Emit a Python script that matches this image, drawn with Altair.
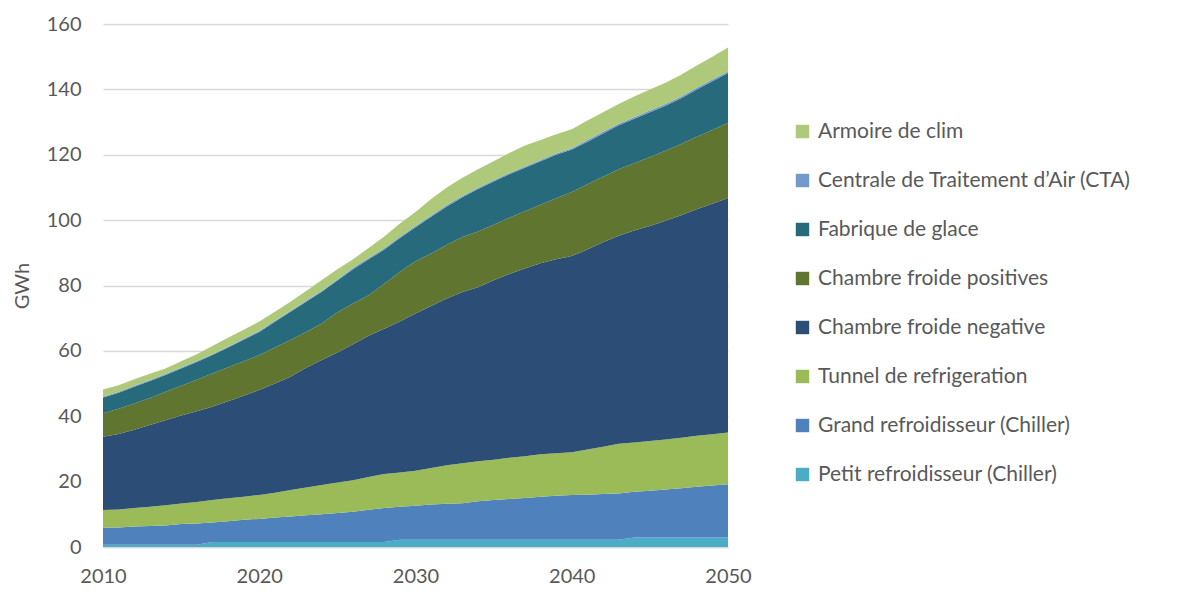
import altair as alt
import pandas as pd

years = list(range(2010, 2051))

# Stack order (bottom -> top)
petit = [0.7]*7 + [1.5]*12 + [2.2]*15 + [2.9]*7
grand = [5.2, 5.3, 5.6, 5.7, 5.9, 6.3, 6.5, 6.0, 6.4, 6.8, 7.1, 7.5, 7.8, 8.2, 8.5, 8.9, 9.3, 9.9, 10.4, 10.1,
         10.4, 10.8, 11.0, 11.2, 11.8, 12.2, 12.5, 12.8, 13.2, 13.5, 13.7, 13.8, 14.0, 14.2, 14.0, 14.3, 14.7, 15.1, 15.5, 15.9, 16.3]
tunnel = [5.4, 5.5, 5.6, 5.9, 6.2, 6.3, 6.6, 6.9, 7.0, 7.1, 7.3, 7.6, 8.1, 8.5, 9.0, 9.3, 9.6, 10.0, 10.4, 10.5,
          10.7, 11.2, 11.8, 12.2, 12.2, 12.3, 12.6, 12.8, 13.0, 13.0, 13.1, 13.8, 14.5, 15.2, 15.1, 15.2, 15.3, 15.4, 15.6, 15.7, 15.8]
negative = [22.4, 23.1, 24.0, 25.0, 26.0, 26.9, 27.7, 28.5, 29.7, 30.9, 32.1, 33.4, 34.7, 36.6, 38.2, 39.8, 41.6, 43.2, 44.5, 46.2,
            48.1, 49.5, 51.0, 52.4, 53.3, 54.9, 56.2, 57.4, 58.4, 59.3, 60.0, 61.2, 62.5, 63.6, 64.8, 65.8, 66.9, 68.1, 69.3, 70.5, 71.8]
positive = [7.2, 7.7, 8.0, 8.3, 8.7, 9.1, 9.7, 10.2, 10.4, 10.5, 10.7, 11.0, 11.2, 11.0, 11.2, 12.3, 12.5, 12.4, 13.7, 15.2,
            16.0, 16.1, 16.5, 16.8, 17.0, 17.0, 17.2, 17.5, 17.9, 18.7, 19.6, 20.0, 20.1, 20.4, 20.6, 21.1, 21.4, 21.8, 22.2, 22.6, 23.0]
glace = [4.8, 4.9, 5.1, 5.2, 5.1, 5.3, 5.4, 5.6, 6.0, 6.6, 7.1, 7.9, 8.7, 9.2, 9.7, 9.7, 10.5, 11.0, 10.5, 10.3,
         10.4, 11.2, 11.7, 12.2, 13.0, 13.2, 13.3, 13.3, 13.3, 13.3, 13.0, 13.0, 13.2, 13.4, 13.6, 13.7, 13.8, 14.0, 14.5, 14.9, 15.2]
cta = [0.3]*16 + [0.4]*15 + [0.5]*10
armoire = [2.2, 2.0, 2.0, 1.9, 1.7, 1.9, 2.1, 2.5, 2.7, 2.8, 2.9, 2.8, 2.7, 3.0, 3.3, 3.2, 2.6, 3.1, 3.6, 4.1,
           4.3, 5.1, 5.4, 5.6, 5.7, 5.8, 6.1, 6.4, 6.1, 5.9, 5.8, 6.0, 6.0, 6.0, 6.3, 6.5, 6.5, 6.7, 6.8, 7.0, 7.3]

series_names = [
    "Petit refroidisseur (Chiller)",
    "Grand refroidisseur (Chiller)",
    "Tunnel de refrigeration",
    "Chambre froide negative",
    "Chambre froide positives",
    "Fabrique de glace",
    "Centrale de Traitement d\u2019Air (CTA)",
    "Armoire de clim",
]
series_values = [petit, grand, tunnel, negative, positive, glace, cta, armoire]
series_colors = ["#4BACC6", "#4F81BD", "#9BBB59", "#2C4D75", "#5F7530", "#276A7C", "#729ACA", "#AFC97A"]

rows = []
for i, (name, vals) in enumerate(zip(series_names, series_values)):
    for y, v in zip(years, vals):
        rows.append({"year": y, "value": v, "series": name, "idx": i})
df = pd.DataFrame(rows)

legend_order = series_names[::-1]
legend_colors = series_colors[::-1]

FONT = "Lato"
TXT = "#595959"

chart = alt.Chart(df).mark_area().encode(
    x=alt.X("year:Q",
            scale=alt.Scale(domain=[2010, 2050], nice=False, zero=False),
            axis=alt.Axis(values=[2010, 2020, 2030, 2040, 2050], format="d", grid=False, ticks=False,
                          domainColor="#D9D9D9", domainWidth=1.5, labelFontSize=20, labelColor=TXT,
                          labelFont=FONT, labelPadding=19, labelFlush=False),
            title=None),
    y=alt.Y("value:Q", stack="zero",
            scale=alt.Scale(domain=[0, 160], nice=False),
            axis=alt.Axis(values=list(range(0, 161, 20)), grid=True, gridColor="#D9D9D9", gridWidth=1.5,
                          domain=False, ticks=False, labelFontSize=20, labelColor=TXT, labelFont=FONT,
                          labelPadding=22, titleFontSize=20, titleColor=TXT, titleFont=FONT,
                          titleFontWeight="normal", titlePadding=14),
            title="GWh"),
    color=alt.Color("series:N",
                    scale=alt.Scale(domain=legend_order, range=legend_colors),
                    sort=legend_order,
                    legend=alt.Legend(orient="none", legendX=689, legendY=97, title=None,
                                      symbolType="square", symbolSize=180, symbolStrokeWidth=0,
                                      labelFontSize=21, labelColor=TXT, labelFont=FONT,
                                      rowPadding=27, labelOffset=5, labelLimit=400)),
    order=alt.Order("idx:Q", sort="ascending"),
).properties(
    width=625, height=523,
    autosize=alt.AutoSizeParams(type="none"),
    padding={"left": 95, "top": 16, "right": 440, "bottom": 40},
).configure(font=FONT).configure_view(stroke=None)

chart.save("out.html", embed_options={"renderer": "svg", "actions": False})
